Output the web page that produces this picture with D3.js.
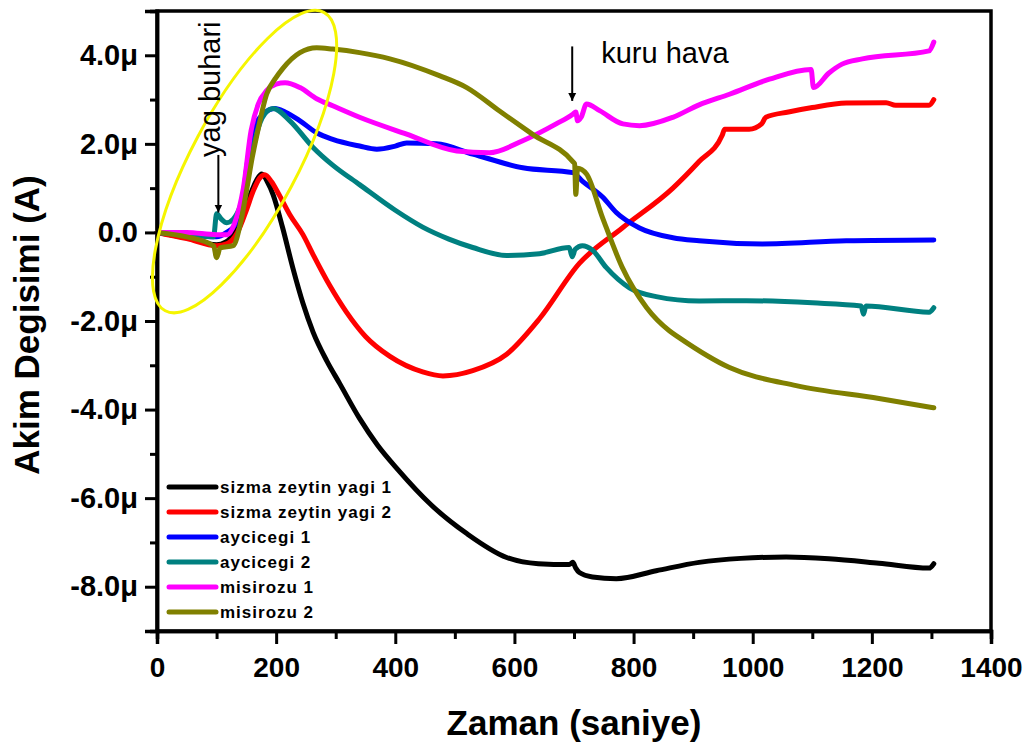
<!DOCTYPE html>
<html>
<head>
<meta charset="utf-8">
<script src="https://cdn.jsdelivr.net/npm/d3@7"></script>
<style>
  html, body { margin: 0; padding: 0; background: #fff; }
  svg { display: block; }
  text { font-family: "Liberation Sans", Arial, sans-serif; }
</style>
</head>
<body>
<svg id="chart" width="1032" height="746"></svg>
<script>
// ---------------- DATA ----------------
const seriesNames = ["sizma zeytin yagi 1", "sizma zeytin yagi 2", "aycicegi 1", "aycicegi 2", "misirozu 1", "misirozu 2"];
const seriesColors = ["#000000", "#ff0000", "#0000ff", "#008080", "#ff00ff", "#808000"];

// [time (s), current change (µA)]
const sizmaZeytin1 = [[0,0],[50,-0.12],[100,-0.28],[115,-0.22],[130,0.0],[145,0.45],[158,0.9],[168,1.2],[176,1.32],[185,1.15],[195,0.85],[211,0.1],[228,-0.8],[245,-1.6],[262,-2.25],[285,-2.9],[307,-3.42],[340,-4.2],[370,-4.8],[404,-5.35],[460,-6.15],[520,-6.8],[587,-7.34],[640,-7.48],[692,-7.5],[698,-7.45],[703,-7.58],[709,-7.68],[731,-7.78],[771,-7.82],[838,-7.64],[910,-7.45],[980,-7.36],[1056,-7.33],[1128,-7.37],[1212,-7.47],[1296,-7.58],[1304,-7.48]];
const sizmaZeytin2 = [[0,0],[50,-0.14],[100,-0.3],[118,-0.25],[135,0.0],[150,0.5],[162,0.95],[172,1.22],[181,1.3],[192,1.15],[205,0.85],[223,0.4],[245,-0.05],[262,-0.5],[290,-1.2],[318,-1.8],[350,-2.35],[391,-2.8],[446,-3.15],[480,-3.24],[530,-3.12],[587,-2.75],[642,-1.95],[709,-0.7],[781,0.1],[866,1.0],[910,1.6],[949,2.2],[953,2.33],[994,2.33],[1015,2.45],[1022,2.6],[1060,2.72],[1100,2.82],[1157,2.92],[1224,2.93],[1240,2.87],[1296,2.87],[1304,3.0]];
const aycicegi1 = [[0,0],[50,-0.05],[100,-0.1],[117,0.0],[130,0.15],[142,0.6],[152,1.6],[161,2.3],[178,2.67],[198,2.8],[215,2.72],[240,2.52],[268,2.25],[295,2.1],[340,1.95],[369,1.88],[400,1.95],[419,2.02],[469,2.0],[530,1.77],[614,1.46],[698,1.35],[714,1.16],[748,0.8],[771,0.45],[810,0.1],[866,-0.12],[910,-0.19],[1016,-0.26],[1157,-0.19],[1304,-0.17]];
const aycicegi2 = [[0,0],[50,-0.05],[95,-0.1],[100,0.42],[108,0.3],[117,0.22],[128,0.3],[140,0.6],[151,1.16],[160,1.8],[170,2.36],[186,2.75],[195,2.8],[223,2.52],[262,1.92],[295,1.52],[340,1.08],[400,0.5],[446,0.12],[490,-0.15],[530,-0.34],[587,-0.52],[642,-0.48],[692,-0.34],[697,-0.55],[702,-0.38],[714,-0.3],[731,-0.4],[754,-0.79],[793,-1.25],[838,-1.45],[910,-1.55],[989,-1.54],[1100,-1.59],[1182,-1.66],[1186,-1.85],[1190,-1.66],[1296,-1.8],[1304,-1.7]];
const misirozu1 = [[0,0],[50,0.0],[100,-0.05],[118,-0.05],[130,0.2],[145,1.0],[158,2.3],[170,2.9],[184,3.2],[200,3.35],[215,3.38],[240,3.27],[268,3.02],[295,2.86],[340,2.6],[419,2.22],[503,1.84],[558,1.8],[614,2.07],[670,2.45],[698,2.67],[703,2.72],[706,2.52],[712,2.6],[721,2.9],[743,2.75],[782,2.45],[810,2.41],[866,2.6],[910,2.88],[961,3.12],[1028,3.46],[1098,3.68],[1102,3.27],[1128,3.6],[1150,3.8],[1184,3.92],[1296,4.1],[1304,4.3]];
const misirozu2 = [[0,0],[50,-0.1],[95,-0.3],[100,-0.57],[106,-0.35],[128,-0.3],[140,0.2],[151,1.0],[160,1.7],[168,2.22],[184,3.12],[200,3.5],[211,3.7],[240,4.06],[268,4.17],[295,4.14],[340,4.06],[391,3.92],[474,3.54],[520,3.27],[575,2.74],[630,2.22],[698,1.6],[701,1.55],[703,0.86],[706,1.45],[721,1.32],[748,0.33],[781,-0.79],[822,-1.7],[860,-2.22],[877,-2.38],[961,-3.05],[1073,-3.46],[1212,-3.75],[1304,-3.96]];

const xMajorTicks = [0, 200, 400, 600, 800, 1000, 1200, 1400];
const xMinorTicks = [100, 300, 500, 700, 900, 1100, 1300];
const yMajorTicks = [-8, -6, -4, -2, 0, 2, 4];
const yMinorTicks = [-7, -5, -3, -1, 1, 3];

const xTitle = "Zaman (saniye)";
const yTitle = "Akim Degisimi (A)";
const annotations = [
  { text: "yag buhari", t: 103, from: 1.75, to: 0.45 },
  { text: "kuru hava", t: 697, from: 4.2, to: 2.97 }
];
const ellipseCenter = { t: 147, v: 1.6 };

// ---------------- CHART ----------------
const allSeries = [sizmaZeytin1, sizmaZeytin2, aycicegi1, aycicegi2, misirozu1, misirozu2];
const svg = d3.select("#chart");
const L = 157, R = 991, T = 11, B = 631;

const x = d3.scaleLinear().domain([0, 1400]).range([L, R]);
const y = d3.scaleLinear().domain([-9, 5]).range([B, T]);

// frame
svg.append("rect")
  .attr("x", L).attr("y", T).attr("width", R - L).attr("height", B - T)
  .attr("fill", "none").attr("stroke", "#000").attr("stroke-width", 3.5);

// arrow marker
svg.append("defs").append("marker")
  .attr("id", "arr").attr("viewBox", "0 0 10 10").attr("refX", 10).attr("refY", 5)
  .attr("markerWidth", 8).attr("markerHeight", 14).attr("markerUnits", "userSpaceOnUse")
  .attr("orient", "auto")
  .append("path").attr("d", "M0,0 L10,5 L0,10 Z").attr("fill", "#000");

// lines
const line = d3.line().x(d => x(d[0])).y(d => y(d[1])).curve(d3.curveMonotoneX);
svg.append("g").selectAll("path").data(allSeries).join("path")
  .attr("d", line)
  .attr("fill", "none")
  .attr("stroke", (d, i) => seriesColors[i])
  .attr("stroke-width", 5)
  .attr("stroke-linejoin", "round")
  .attr("stroke-linecap", "round");

// axes
const xAxis = svg.append("g").attr("transform", `translate(0,${B})`)
  .call(d3.axisBottom(x).tickValues(xMajorTicks).tickSize(13).tickPadding(13).tickFormat(d3.format("d")));
const xMinor = svg.append("g").attr("transform", `translate(0,${B})`)
  .call(d3.axisBottom(x).tickValues(xMinorTicks).tickSize(8).tickFormat(""));
const yAxis = svg.append("g").attr("transform", `translate(${L},0)`)
  .call(d3.axisLeft(y).tickValues(yMajorTicks).tickSize(12).tickPadding(7)
    .tickFormat(v => v === 0 ? "0.0" : v.toFixed(1) + "μ"));
const yMinor = svg.append("g").attr("transform", `translate(${L},0)`)
  .call(d3.axisLeft(y).tickValues(yMinorTicks).tickSize(7).tickFormat(""));

[xAxis, xMinor, yAxis, yMinor].forEach(g => {
  g.select(".domain").attr("stroke", "#000").attr("stroke-width", 3.5);
  g.selectAll(".tick line").attr("stroke", "#000").attr("stroke-width", 3);
});
xAxis.selectAll(".tick text")
  .attr("font-family", "'Liberation Sans', Arial, sans-serif")
  .attr("font-size", 28).attr("font-weight", "bold").attr("fill", "#000");
yAxis.selectAll(".tick text")
  .attr("font-family", "'Liberation Sans', Arial, sans-serif")
  .attr("font-size", 29).attr("font-weight", "bold").attr("fill", "#000");

// axis titles
svg.append("text")
  .attr("x", (L + R) / 2).attr("y", 735)
  .attr("text-anchor", "middle")
  .attr("font-size", 35).attr("font-weight", "bold")
  .text(xTitle);
svg.append("text")
  .attr("transform", `translate(39,${(T + B) / 2 + 4}) rotate(-90)`)
  .attr("text-anchor", "middle")
  .attr("font-size", 35).attr("font-weight", "bold")
  .text(yTitle);

// legend
const legend = svg.append("g");
seriesNames.forEach((name, i) => {
  const yy = 487 + i * 25;
  legend.append("line")
    .attr("x1", 169).attr("x2", 216).attr("y1", yy).attr("y2", yy)
    .attr("stroke", seriesColors[i]).attr("stroke-width", 5).attr("stroke-linecap", "round");
  legend.append("text")
    .attr("x", 220).attr("y", yy).attr("dy", "0.35em")
    .attr("font-size", 17).attr("font-weight", "bold").attr("letter-spacing", 1.0)
    .text(name);
});

// yellow ellipse
svg.append("ellipse")
  .attr("transform", `translate(${x(ellipseCenter.t)},${y(ellipseCenter.v)}) rotate(-62)`)
  .attr("rx", 169).attr("ry", 53)
  .attr("fill", "none").attr("stroke", "#f5f500").attr("stroke-width", 3);

// annotations
const a0 = annotations[0];
svg.append("line")
  .attr("x1", x(a0.t)).attr("x2", x(a0.t))
  .attr("y1", y(a0.from)).attr("y2", y(a0.to))
  .attr("stroke", "#000").attr("stroke-width", 2).attr("marker-end", "url(#arr)");
svg.append("text")
  .attr("transform", `translate(${x(a0.t) + 2},${y(a0.from) + 2}) rotate(-90)`)
  .attr("font-size", 29)
  .text(a0.text);

const a1 = annotations[1];
svg.append("line")
  .attr("x1", x(a1.t)).attr("x2", x(a1.t))
  .attr("y1", y(a1.from)).attr("y2", y(a1.to))
  .attr("stroke", "#000").attr("stroke-width", 2).attr("marker-end", "url(#arr)");
svg.append("text")
  .attr("x", x(a1.t) + 29).attr("y", 63)
  .attr("font-size", 29)
  .text(a1.text);
</script>
</body>
</html>
